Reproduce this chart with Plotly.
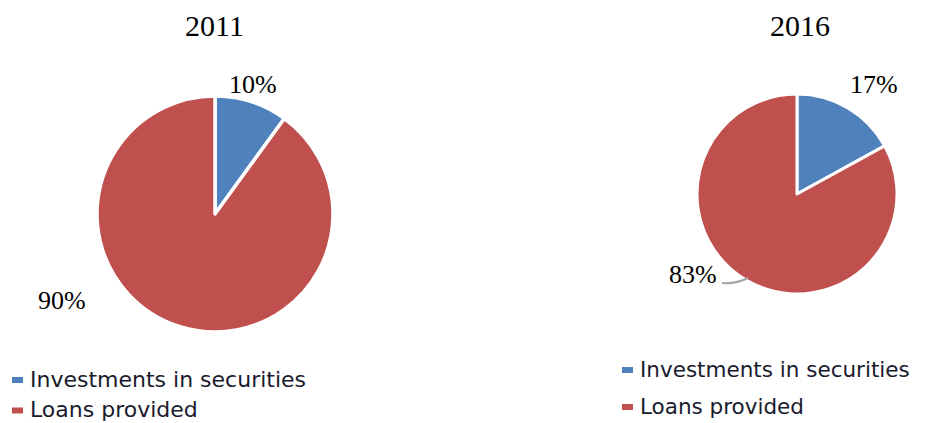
import plotly.graph_objects as go

W, H = 925, 423

categories = ["Investments in securities", "Loans provided"]
years = ["2011", "2016"]
values_2011 = [10, 90]
values_2016 = [17, 83]
colors = ["#4F81BD", "#C0504D"]


def px(x):
    return x / W


def py(y):
    return 1 - y / H


fig = go.Figure()

# Pies (domains in pixels)
pies = [
    (values_2011, (97, 333), (96, 332), 3.5),
    (values_2016, (697, 897), (94, 294), 3.0),
]
for vals, (x0, x1), (y0, y1), lw in pies:
    fig.add_trace(go.Pie(
        labels=categories,
        values=vals,
        sort=False,
        direction="clockwise",
        rotation=0,
        textinfo="none",
        hoverinfo="label+percent",
        marker=dict(colors=colors, line=dict(color="white", width=lw)),
        domain=dict(x=[px(x0), px(x1)], y=[py(y1), py(y0)]),
        showlegend=False,
    ))

serif = "Liberation Serif, Times New Roman, serif"
sans = "DejaVu Sans, Verdana, sans-serif"

annotations = []
# Titles
for year, cx in zip(years, [214, 800]):
    annotations.append(dict(x=px(cx), y=py(26), text=year, showarrow=False,
                            xref="paper", yref="paper", xanchor="center", yanchor="middle",
                            font=dict(family=serif, size=30, color="black")))

# Percentage labels
label_pos = [
    [(253, 85), (62, 300)],
    [(874, 85), (693, 274)],
]
for vals, positions in zip([values_2011, values_2016], label_pos):
    for v, (lx, ly) in zip(vals, positions):
        annotations.append(dict(x=px(lx), y=py(ly), text=f"{v}%", showarrow=False,
                                xref="paper", yref="paper", xanchor="center", yanchor="middle",
                                font=dict(family=serif, size=26, color="black")))

# Custom legends
legend_specs = [
    (12, 29, [379, 409.5], 22),
    (622, 639, [369, 406], 21.5),
]
shapes = []
for sq_x, tx, ys, fs in legend_specs:
    for cat, col, ly in zip(categories, colors, ys):
        annotations.append(dict(x=px(tx), y=py(ly), text=cat, showarrow=False,
                                xref="paper", yref="paper", xanchor="left", yanchor="middle",
                                borderpad=0,
                                font=dict(family=sans, size=fs, color="#1a1a2e")))
        shapes.append(dict(type="rect", xref="paper", yref="paper",
                           x0=px(sq_x), x1=px(sq_x + 11), y0=py(ly + 4), y1=py(ly - 2),
                           fillcolor=col, line=dict(width=0)))

# Leader line for 83%
shapes.append(dict(type="path", xref="paper", yref="paper",
                   path=f"M {px(722)} {py(283)} Q {px(736)} {py(284)} {px(748)} {py(278)}",
                   line=dict(color="#A6A6A6", width=2)))

fig.update_layout(
    width=W, height=H,
    margin=dict(l=0, r=0, t=0, b=0),
    paper_bgcolor="white",
    plot_bgcolor="white",
    annotations=annotations,
    shapes=shapes,
)

fig.write_html("out.html", config={"displayModeBar": False},
               post_script="document.body.style.margin='0';document.body.style.padding='0';")
